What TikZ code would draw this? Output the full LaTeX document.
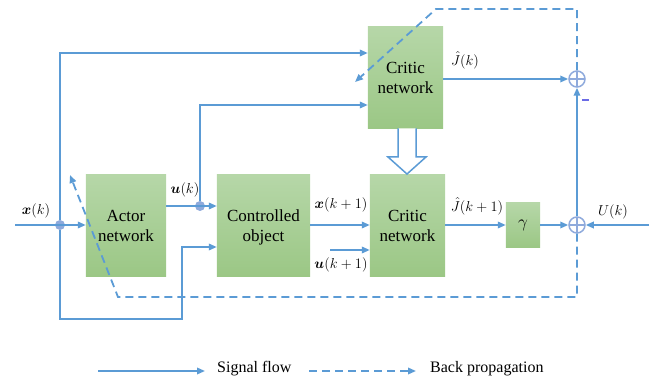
\documentclass[tikz,border=0pt]{standalone}
\usepackage{amsmath,bm}
\usepackage{fontspec}
\setmainfont{Liberation Serif}
\newfontfamily\blockfont{Liberation Serif}
\usetikzlibrary{arrows.meta,backgrounds}
\definecolor{flow}{HTML}{5B9BD5}
\definecolor{dotc}{HTML}{8FAADC}
\definecolor{gtop}{HTML}{B6D7A8}
\definecolor{gbot}{HTML}{9BC785}
\definecolor{minusc}{HTML}{6B6BE6}
% two centred lines of block text, set a little below the block's middle
\newcommand{\twolines}[2]{{\blockfont\fontsize{17}{20}\selectfont
  \begin{tabular}{@{}c@{}}\rule{0pt}{19pt}#1\\#2\end{tabular}}}
\tikzset{
  sig/.style={draw=flow, line width=1.8pt, -{Triangle[length=8pt,width=6.5pt]}},
  bp/.style={sig, dash pattern=on 8pt off 5pt},
  block/.style={rectangle, draw=none, inner sep=0pt},
  green shade/.style={top color=gtop, bottom color=gbot, draw=none},
  junction/.style={circle, fill=dotc, minimum size=10pt, inner sep=0pt},
  summer/.style={circle, draw=dotc, line width=1.5pt, minimum size=16pt, inner sep=0pt,
    path picture={\draw[dotc, line width=1.5pt]
      (path picture bounding box.north) -- (path picture bounding box.south)
      (path picture bounding box.west) -- (path picture bounding box.east);}},
  lbl/.style={font=\fontsize{14}{16}\selectfont, inner sep=0pt},
  legtext/.style={font=\fontsize{16}{18}\selectfont, inner sep=0pt}
}
\begin{document}
\begin{tikzpicture}[x=1pt, y=-1pt]
\useasboundingbox (0,0) rectangle (657,379);

% blocks
\node[block, minimum width=80pt, minimum height=101pt] (actor) at (126,225.5) {\twolines{Actor}{network}};
\node[block, minimum width=93pt, minimum height=101pt] (plant) at (263.5,225.5) {\twolines{Controlled}{object}};
\node[block, minimum width=75pt, minimum height=101pt] (critic2) at (407.5,225.5) {\twolines{Critic}{network}};
\node[block, minimum width=75pt, minimum height=101pt] (critic1) at (405.5,77.5) {\twolines{Critic}{network}};
\node[block, minimum width=34pt, minimum height=44pt, font=\fontsize{17}{20}\selectfont] (gam) at (523,225) {$\gamma$};

% green gradient fills behind the blocks
\begin{scope}[on background layer]
  \foreach \b in {actor,plant,critic1,critic2,gam}
    \shade[green shade] (\b.south west) rectangle (\b.north east);
\end{scope}

% summing junctions
\node[summer] (s1) at (577,79) {};
\node[summer] (s2) at (577,225) {};

% branch points
\node[junction] (d1) at (60,225) {};
\node[junction] (d2) at (200,206) {};

% free ends and corners
\coordinate (xin) at (15,225);
\coordinate (uin) at (330,250);
\coordinate (Uin) at (649,225);
\coordinate (ctop) at (60,53);
\coordinate (cbot) at (60,319);
\coordinate (cstep) at (182,319);
\coordinate (cup) at (182,247);
\coordinate (utop) at (200,105);

% signal flow
\draw[sig] (xin) -- (xin -| actor.west);
\draw[sig] (d1) -- (ctop) -- (ctop -| critic1.west);
\draw[sig] (d1) -- (cbot) -- (cstep) -- (cup) -- (cup -| plant.west);
\draw[sig] (actor.east |- d2) -- (d2 -| plant.west);
\draw[sig] (d2) -- (utop) -- (utop -| critic1.west);
\draw[sig] (plant.east |- xin) -- (xin -| critic2.west);
\draw[sig] (uin) -- (uin -| critic2.west);
\draw[sig] (critic2.east |- s2) -- (gam.west);
\draw[sig] (gam.east) -- (s2.west);
\draw[sig] (Uin) -- (s2.east);
\draw[sig] (s2.north) -- (s1.south);
\draw[sig] (critic1.east |- s1) -- (s1.west);

% back propagation paths
\coordinate (bp1a) at (577,9);
\coordinate (bp1b) at (436,9);
\coordinate (bp1c) at (355,82);
\draw[bp] (s1.north) -- (bp1a) -- (bp1b) -- (bp1c);
\coordinate (bp2a) at (577,297);
\coordinate (bp2b) at (118,297);
\coordinate (bp2c) at (70,175);
\draw[bp] (s2.south) -- (bp2a) -- (bp2b) -- (bp2c);

% hollow arrow between the critic networks
\draw[draw=flow, line width=1.5pt, fill=white, line join=miter]
  (398,128.5) -- (398,157) -- (388,157) -- (407,174) -- (426,157) -- (416,157) -- (416,128.5);

% minus sign at the upper summer
\draw[minusc, line width=1.5pt] (582,100) -- (589,100);

% signal labels
\node[lbl] (lx) at (36,211) {$\bm{x}(k)$};
\node[lbl] (lu) at (185,190) {$\bm{u}(k)$};
\node[lbl] (lx1) at (341,205) {$\bm{x}(k+1)$};
\node[lbl] (lu1) at (341,265) {$\bm{u}(k+1)$};
\node[lbl] (lJ) at (465,60) {$\hat{J}(k)$};
\node[lbl] (lJ1) at (477,206) {$\hat{J}(k+1)$};
\node[lbl] (lU) at (613,212) {$U(k)$};

% legend
\coordinate (la) at (98,371);
\coordinate (lb) at (205,371);
\coordinate (lc) at (309,371);
\coordinate (ld) at (416,371);
\draw[sig] (la) -- (lb);
\node[legtext, anchor=west] (ts) at (217,369) {Signal flow};
\draw[bp] (lc) -- (ld);
\node[legtext, anchor=west] (tb) at (430,369) {Back propagation};
\end{tikzpicture}
\end{document}
